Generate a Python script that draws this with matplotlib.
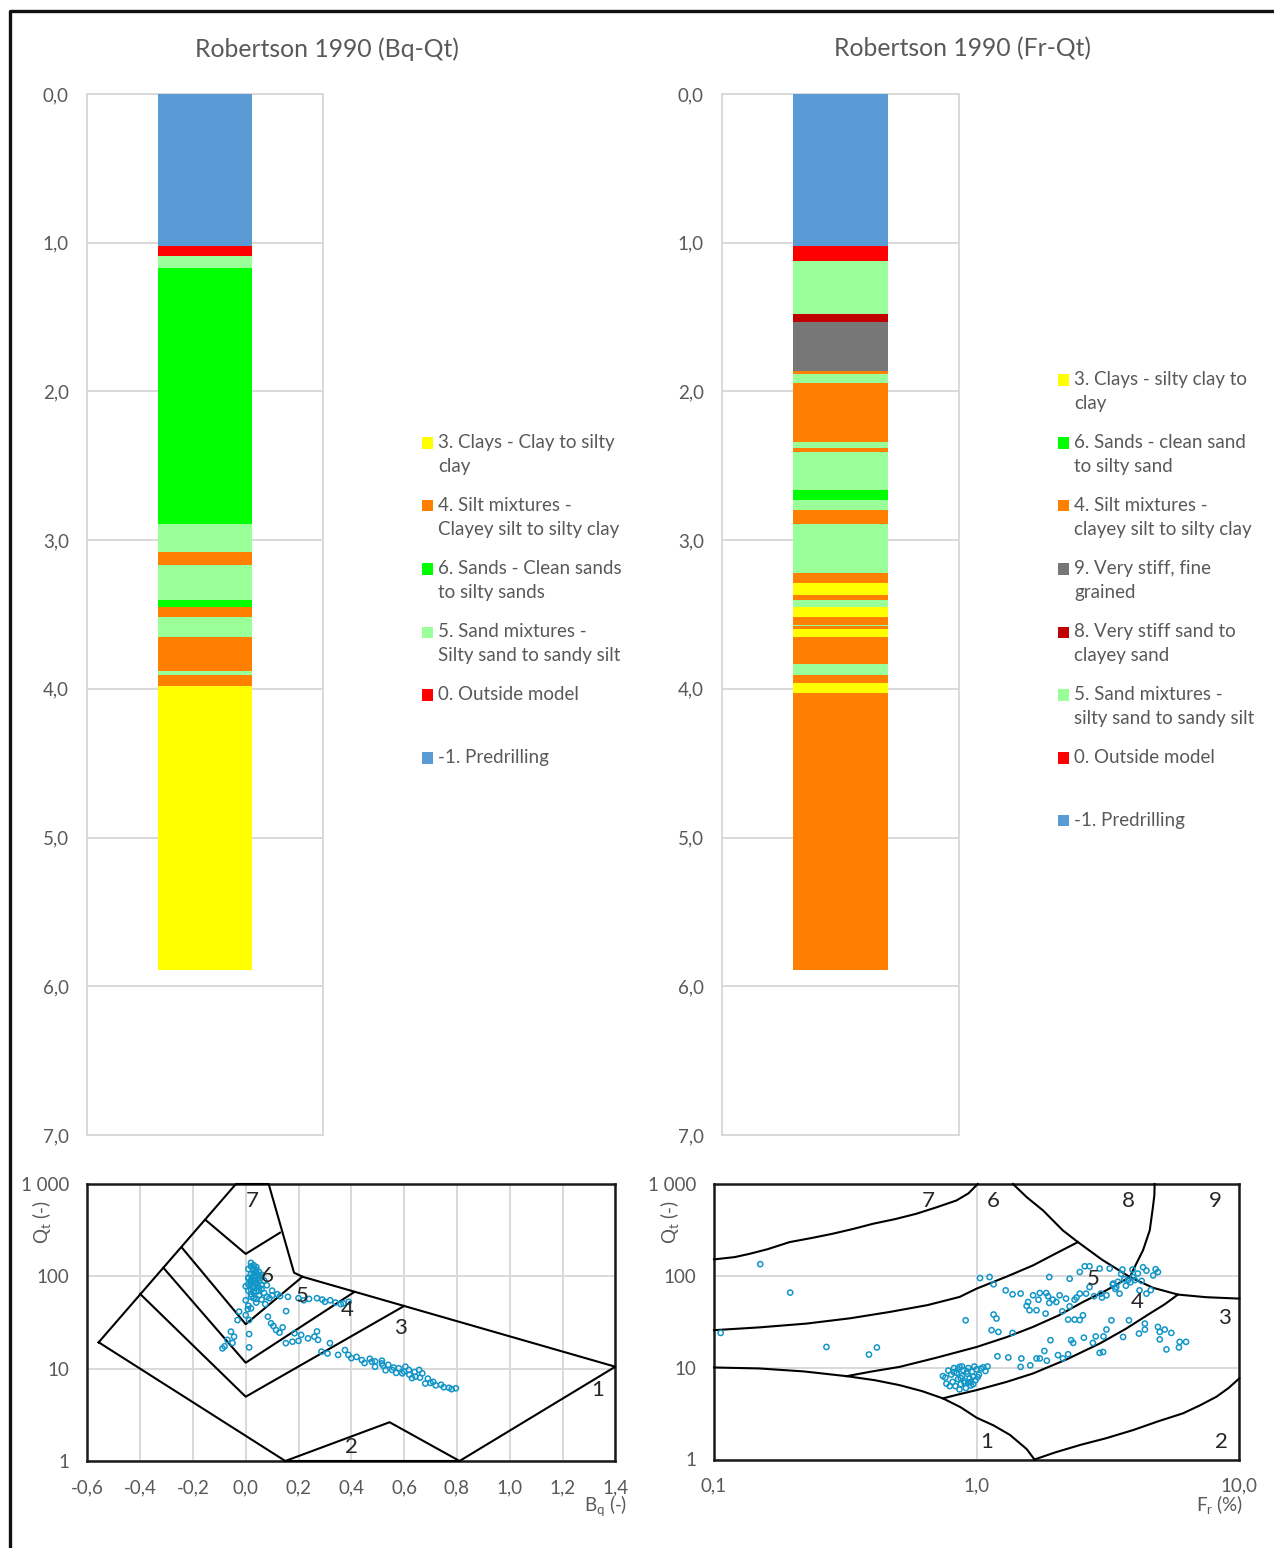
import matplotlib
matplotlib.use("Agg")
import matplotlib.pyplot as plt
from matplotlib.patches import Rectangle
from matplotlib.lines import Line2D

plt.rcParams['font.family'] = ['Lato', 'DejaVu Sans']
plt.rcParams['mathtext.fontset'] = 'custom'
plt.rcParams['mathtext.rm'] = 'Lato'

# ---------------- data ----------------
class_colors = {-1: '#5B9BD5', 0: '#FF0000', 3: '#FFFF00', 4: '#FF8000',
                5: '#99FF99', 6: '#00FF00', 8: '#C00000', 9: '#777777'}

# Bq-Qt column: bottom depth of each layer and class
bq_bottom = [1.02, 1.09, 1.17, 2.89, 3.08, 3.17, 3.40, 3.45, 3.52, 3.65, 3.88, 3.91, 3.98, 5.89]
bq_class = [-1, 0, 5, 6, 5, 4, 5, 6, 4, 5, 4, 5, 4, 3]

# Fr-Qt column
fr_bottom = [1.02, 1.12, 1.48, 1.53, 1.86, 1.88, 1.94, 2.34, 2.38, 2.41, 2.66, 2.73, 2.80, 2.89,
             3.22, 3.29, 3.37, 3.40, 3.45, 3.52, 3.57, 3.58, 3.60, 3.65, 3.83, 3.91, 3.96, 4.03, 5.89]
fr_class = [-1, 0, 5, 8, 9, 4, 5, 4, 5, 4, 5, 6, 5, 4,
            5, 4, 3, 4, 5, 3, 4, 5, 4, 3, 4, 5, 4, 3, 4]

depth_ticks = [0, 1, 2, 3, 4, 5, 6, 7]

bq_legend_codes = [3, 4, 6, 5, 0, -1]
bq_legend_labels = ["3. Clays - Clay to silty\nclay",
                    "4. Silt mixtures -\nClayey silt to silty clay",
                    "6. Sands - Clean sands\nto silty sands",
                    "5. Sand mixtures -\nSilty sand to sandy silt",
                    "0. Outside model",
                    "-1. Predrilling"]
fr_legend_codes = [3, 6, 4, 9, 8, 5, 0, -1]
fr_legend_labels = ["3. Clays - silty clay to\nclay",
                    "6. Sands - clean sand\nto silty sand",
                    "4. Silt mixtures -\nclayey silt to silty clay",
                    "9. Very stiff, fine\ngrained",
                    "8. Very stiff sand to\nclayey sand",
                    "5. Sand mixtures -\nsilty sand to sandy silt",
                    "0. Outside model",
                    "-1. Predrilling"]

# Robertson Bq chart boundaries (Bq, Qt)
bq_outer_x = [-0.557, -0.037, 0.087, 0.183, 0.215, 1.40, 0.81, 0.15, -0.557]
bq_outer_y = [19.3, 1000, 1000, 109.6, 99, 10.5, 1.0, 1.0, 19.3]
bq_v65_x = [-0.152, 0.0, 0.13];  bq_v65_y = [408, 175, 297]
bq_v54_x = [-0.242, 0.0, 0.215]; bq_v54_y = [205, 30.3, 99]
bq_v43_x = [-0.312, 0.0, 0.41];  bq_v43_y = [124, 11.6, 67.3]
bq_v32_x = [-0.40, 0.0, 0.60];   bq_v32_y = [64.5, 4.97, 47.7]
bq_z2_x = [0.15, 0.545, 0.81];   bq_z2_y = [1.0, 2.63, 1.0]
bq_zone_lbl = ['7', '6', '5', '4', '3', '1', '2']
bq_zone_x = [0.026, 0.081, 0.214, 0.386, 0.585, 1.333, 0.40]
bq_zone_y = [656, 101, 61.3, 43.3, 27.6, 5.88, 1.42]

# measured points Bq chart
bq_pts_x = [0.02, 0.03, 0.04, 0.01, 0.03, 0.05, 0.02, 0.04, 0.06, 0.01, 0.03, 0.05, 0.02, 0.04, 0.00,
            0.03, 0.06, 0.01, 0.04, 0.07, 0.02, 0.05, 0.08, 0.03, 0.00, 0.06, 0.09, 0.04, 0.01, 0.02,
            0.03, 0.05, 0.02, 0.04, 0.01, 0.03, 0.05, 0.02, 0.04, 0.03, 0.06, 0.07, 0.08, 0.10, 0.12,
            0.02, 0.04, 0.03, 0.05, 0.01, 0.02, 0.04, 0.06, 0.03, 0.05, 0.02, 0.04,
            0.10, 0.13, 0.16, 0.20, 0.24, 0.27, 0.29, 0.32, 0.34, 0.37, 0.39, 0.36, 0.30, 0.22,
            0.074, 0.153, 0.084, 0.096, 0.115, 0.128, 0.185, 0.21, 0.236, 0.27, 0.274, 0.319, 0.152,
            0.177, 0.26, 0.20, 0.14, 0.105,
            -0.025, -0.031, 0.013, 0.008, -0.056, -0.044, -0.069, -0.088, 0.013, 0.013, -0.08, -0.05, 0.0,
            0.287, 0.31, 0.35, 0.389, 0.40, 0.44, 0.478, 0.49, 0.516, 0.54, 0.555, 0.58, 0.593, 0.618,
            0.643, 0.669, 0.68, 0.71, 0.74, 0.796, 0.657, 0.605, 0.516, 0.49, 0.376, 0.45, 0.47, 0.52,
            0.56, 0.60, 0.62, 0.64, 0.66, 0.69, 0.70, 0.72, 0.75, 0.77, 0.78, 0.63, 0.57, 0.53, 0.42]
bq_pts_y = [140, 132, 126, 120, 116, 112, 106, 101, 98, 95, 91, 88, 85, 81, 78,
            75, 73, 70, 68, 66, 64, 62, 60, 58, 55, 56, 58, 52, 48, 45,
            100, 95, 92, 86, 82, 79, 76, 72, 110, 120, 104, 90, 80, 70, 64,
            128, 118, 108, 102, 97, 88, 84, 80, 68, 70, 60, 57,
            62, 61, 60, 58, 57, 58, 56, 55, 52, 51, 53, 50, 53, 55,
            50, 42, 36.6, 31, 26.2, 24.6, 24.2, 23.2, 21.3, 25.3, 20.5, 18.9, 18.9,
            19.6, 22.2, 20, 28, 29,
            41.5, 33.6, 33.6, 44, 25.2, 22.2, 20.5, 16.6, 23.7, 17, 17.5, 19, 38,
            15.3, 14.6, 14.1, 14.1, 13, 12.4, 11.9, 10.5, 12.2, 11, 9.7, 10.1, 8.9, 9.7,
            8.2, 8.9, 6.9, 7.2, 6.7, 6.13, 9.7, 10.5, 11.4, 12, 15.9, 11.5, 12.8, 10.8,
            10.3, 9.3, 8.6, 9.2, 8.0, 7.8, 7.0, 6.6, 6.3, 6.2, 6.0, 7.9, 9.0, 9.6, 13.4]

# Robertson Fr chart boundaries (Fr %, Qt)
fr_a_x = [0.1, 0.12, 0.137, 0.16, 0.194, 0.235, 0.284, 0.34, 0.403, 0.49, 0.589, 0.70, 0.837, 0.93, 1.01]
fr_a_y = [151, 160, 174, 195, 233, 258, 288, 325, 369, 415, 474, 555, 661, 790, 1000]
fr_b_x = [0.1, 0.15, 0.225, 0.33, 0.466, 0.65, 0.861, 1.0, 1.3, 1.64, 2.0, 2.43]
fr_b_y = [25.6, 27.5, 30.2, 34.5, 40.4, 48, 58.9, 72.6, 98, 130, 175, 233]
fr_c_x = [1.375, 1.55, 1.79, 2.13, 2.43, 3.0, 3.83, 4.7, 5.84, 7.5, 10.0]
fr_c_y = [1000, 720, 515, 312, 233, 150, 97, 74, 62.5, 58.5, 56.5]
fr_d_x = [4.76, 4.75, 4.69, 4.56, 4.3, 3.94, 3.83]
fr_d_y = [1000, 760, 560, 312, 190, 115, 97]
fr_e_x = [0.32, 0.40, 0.509, 0.70, 1.0, 1.3, 1.64, 2.05, 2.54, 3.1, 3.83]
fr_e_y = [8.08, 9.1, 10.2, 12.8, 16.8, 21.5, 27.8, 37, 51.9, 69, 97]
fr_f_x = [0.744, 0.85, 1.0, 1.3, 1.64, 2.2, 2.94, 3.7, 4.56, 5.2, 5.84]
fr_f_y = [4.63, 5.1, 5.7, 7.0, 8.65, 12.3, 18.3, 26.5, 38.8, 49, 62.5]
fr_g_x = [0.1, 0.149, 0.22, 0.32, 0.41, 0.509, 0.62, 0.744, 0.87, 1.0, 1.16, 1.34, 1.55, 1.66]
fr_g_y = [10.05, 9.8, 9.1, 8.08, 7.3, 6.45, 5.55, 4.63, 3.7, 2.85, 2.35, 1.85, 1.3, 1.0]
fr_h_x = [1.66, 2.0, 2.5, 3.1, 3.94, 4.9, 6.1, 7.1, 8.18, 9.1, 10.0]
fr_h_y = [1.0, 1.2, 1.45, 1.7, 2.09, 2.6, 3.18, 3.9, 4.82, 6.0, 7.64]
fr_zone_lbl = ['7', '6', '8', '9', '5', '4', '3', '1', '2']
fr_zone_x = [0.656, 1.16, 3.79, 8.13, 2.77, 4.07, 8.8, 1.09, 8.57]
fr_zone_y = [661, 661, 661, 661, 91.6, 51.5, 34.5, 1.55, 1.55]

fr_pts_x = [0.15, 0.195, 0.106, 0.268, 0.389, 0.417, 0.744, 0.767,
            1.03, 1.12, 1.16, 1.29, 0.908, 1.16, 1.19, 1.14, 1.21, 1.37, 1.47, 1.57, 1.64, 1.74, 1.84,
            1.89, 1.59, 1.69, 1.83, 1.89, 2.01, 2.07, 2.19, 2.12, 2.26, 2.26, 2.36, 2.47, 2.61, 2.23,
            2.36, 2.54, 2.47, 2.58, 2.69, 2.94, 2.69, 2.97, 3.12, 3.31, 3.40, 3.21, 3.59, 3.77, 3.94,
            3.92, 4.11, 4.30, 4.43, 4.70, 4.90, 4.17, 4.43, 3.50, 3.26, 3.80, 4.37, 4.37, 4.15, 4.90,
            4.98, 5.20, 5.51, 4.98, 5.28, 5.93, 6.27, 5.89, 3.61, 3.12, 3.04, 2.84, 2.77, 2.56, 2.29,
            2.33, 1.91, 1.81, 1.74, 1.85, 2.04, 2.13, 2.23, 1.69, 1.60, 1.48, 1.47, 1.32, 1.20, 2.94,
            3.03, 1.37, 1.87, 2.47, 3.37,
            3.30, 3.45, 3.65, 3.85, 4.0, 4.25, 4.6, 4.8, 3.55, 3.7, 2.8, 3.0, 1.95, 1.72, 2.4, 1.55,
            0.76, 0.78, 0.80, 0.81, 0.82, 0.83, 0.84, 0.85, 0.86, 0.87, 0.88, 0.89, 0.90, 0.91, 0.92,
            0.93, 0.94, 0.95, 0.96, 0.97, 0.98, 0.99, 1.00, 1.02, 1.04, 1.06, 1.08, 1.10, 0.88, 0.93,
            0.79, 0.86, 0.82, 0.85, 0.90, 0.95, 0.87, 0.92, 0.97, 1.01]
fr_pts_y = [134, 65.7, 23.9, 16.8, 13.9, 16.6, 8.1, 6.7,
            94.6, 97, 80.9, 69.5, 32.8, 37.9, 34.3, 25.6, 24.5, 23.9, 64.1, 51.9, 61.4, 65, 65,
            97, 42.2, 42.2, 38.8, 50.7, 51.9, 61.4, 56.5, 41.1, 93, 46.5, 55, 64, 64, 33.4,
            33.4, 37.2, 110, 127, 127, 120, 75.5, 64, 61.4, 82.4, 75.5, 120, 117, 89.3, 97,
            117, 106, 124, 114, 101, 110, 69.5, 64, 64, 32.8, 32.8, 30.2, 26.0, 23.5, 27.8,
            24.5, 26.0, 23.9, 20.3, 15.8, 19.1, 19.1, 16.6, 21.6, 26.0, 21.9, 21.9, 18.6, 21.2, 19.9,
            18.6, 19.9, 15.2, 12.6, 11.9, 13.7, 12.6, 14.0, 12.6, 10.6, 12.6, 10.2, 12.9, 13.3, 14.5,
            14.8, 62.9, 60, 33, 72,
            80, 86, 92, 85, 90, 88, 70, 118, 105, 78, 60, 58, 55, 55, 58, 47,
            7.8, 9.3, 8.4, 7.0, 9.9, 6.3, 8.8, 7.5, 10.2, 6.6, 8.1, 9.4, 7.1, 6.0, 8.6,
            9.9, 7.6, 6.4, 9.0, 8.0, 10.3, 7.3, 9.6, 8.4, 9.8, 10.1, 9.2, 10.3, 10.3, 6.9,
            6.3, 5.8, 8.9, 9.6, 6.8, 7.0, 7.7, 9.1, 6.6, 7.9]

# ---------------- styling ----------------
W, H = 1274, 1548
GRAY_TXT = '#595959'
GRID = '#D9D9D9'
PT_COL = '#1296C8'
TICK_FS = 13.5


def fx(px):
    return px / W


def fy(py):
    return 1 - py / H


def dec(v):
    return f"{v:.1f}".replace('.', ',')


fig = plt.figure(figsize=(W / 100, H / 100), dpi=100)
fig.patch.set_facecolor('white')


def column(ax_rect, bottoms, classes, title, title_x):
    ax = fig.add_axes(ax_rect)
    top = 0.0
    for b, c in zip(bottoms, classes):
        ax.bar(0.5, b - top, bottom=top, width=0.4, color=class_colors[c],
               edgecolor='none', zorder=3)
        top = b
    ax.set_xlim(0, 1)
    ax.set_ylim(7, 0)
    ax.set_yticks(depth_ticks)
    ax.set_yticklabels([dec(v) for v in depth_ticks], color=GRAY_TXT, fontsize=TICK_FS)
    ax.set_xticks([])
    ax.tick_params(axis='y', length=0, pad=13)
    ax.grid(axis='y', color=GRID, lw=1.4, zorder=0)
    for s in ax.spines.values():
        s.set_color(GRID)
        s.set_linewidth(1.4)
    fig.text(fx(title_x), fy(49), title, ha='center', va='center',
             color=GRAY_TXT, fontsize=17.8)
    return ax


column([fx(87), fy(1135), fx(236), (1135 - 94) / H], bq_bottom, bq_class,
       "Robertson 1990 (Bq-Qt)", 327)
column([fx(722), fy(1135), fx(237), (1135 - 94) / H], fr_bottom, fr_class,
       "Robertson 1990 (Fr-Qt)", 963)


def legend(x_marker, y_first, codes, labels):
    for i, (c, lab) in enumerate(zip(codes, labels)):
        yc = y_first + 63 * i
        fig.patches.append(Rectangle((fx(x_marker), fy(yc + 5.5)), 11 / W, 11 / H,
                                     transform=fig.transFigure, facecolor=class_colors[c],
                                     edgecolor='none', figure=fig))
        fig.text(fx(x_marker + 16), fy(yc - 9), lab, ha='left', va='top',
                 color=GRAY_TXT, fontsize=13.5, linespacing=1.5)


legend(422, 443, bq_legend_codes, bq_legend_labels)
legend(1058, 380, fr_legend_codes, fr_legend_labels)

# ---------------- Bq - Qt chart ----------------
ax3 = fig.add_axes([fx(87.3), fy(1461), fx(528), 277 / H])
ax3.set_yscale('log')
ax3.set_xlim(-0.6, 1.4)
ax3.set_ylim(1, 1000)
bq_xt = [-0.6, -0.4, -0.2, 0.0, 0.2, 0.4, 0.6, 0.8, 1.0, 1.2, 1.4]
ax3.set_xticks(bq_xt)
ax3.set_xticklabels([dec(v) for v in bq_xt], color=GRAY_TXT, fontsize=TICK_FS)
ax3.set_yticks([1, 10, 100, 1000])
ax3.set_yticklabels(['1', '10', '100', '1 000'], color=GRAY_TXT, fontsize=TICK_FS)
ax3.minorticks_off()
ax3.tick_params(length=0, pad=13)
ax3.grid(True, color=GRID, lw=1.4, zorder=0)
for s in ax3.spines.values():
    s.set_color('#1a1a1a')
    s.set_linewidth(1.8)
for xs, ys in [(bq_outer_x, bq_outer_y), (bq_v65_x, bq_v65_y), (bq_v54_x, bq_v54_y),
               (bq_v43_x, bq_v43_y), (bq_v32_x, bq_v32_y), (bq_z2_x, bq_z2_y)]:
    ax3.plot(xs, ys, color='black', lw=1.5, zorder=3, clip_on=False)
ax3.scatter(bq_pts_x, bq_pts_y, s=14, facecolors='none', edgecolors=PT_COL,
            linewidths=1.1, zorder=4)
for t, x, y in zip(bq_zone_lbl, bq_zone_x, bq_zone_y):
    ax3.text(x, y, t, ha='center', va='center', fontsize=16, color='#262626', zorder=5)
fig.text(fx(42), fy(1222), r"Q$_\mathregular{t}$ (-)", rotation=90, ha='center', va='center',
         color=GRAY_TXT, fontsize=TICK_FS)
fig.text(fx(606), fy(1506), r"B$_\mathregular{q}$ (-)", ha='center', va='center',
         color=GRAY_TXT, fontsize=TICK_FS)

# ---------------- Fr - Qt chart ----------------
ax4 = fig.add_axes([fx(714), fy(1459.5), fx(525.3), 275.5 / H])
ax4.set_xscale('log')
ax4.set_yscale('log')
ax4.set_xlim(0.1, 10)
ax4.set_ylim(1, 1000)
ax4.set_xticks([0.1, 1, 10])
ax4.set_xticklabels(['0,1', '1,0', '10,0'], color=GRAY_TXT, fontsize=TICK_FS)
ax4.set_yticks([1, 10, 100, 1000])
ax4.set_yticklabels(['1', '10', '100', '1 000'], color=GRAY_TXT, fontsize=TICK_FS)
ax4.minorticks_off()
ax4.tick_params(length=0, pad=13)
ax4.grid(True, color=GRID, lw=1.4, zorder=0)
for s in ax4.spines.values():
    s.set_color('#1a1a1a')
    s.set_linewidth(1.8)
for xs, ys in [(fr_a_x, fr_a_y), (fr_b_x, fr_b_y), (fr_c_x, fr_c_y), (fr_d_x, fr_d_y),
               (fr_e_x, fr_e_y), (fr_f_x, fr_f_y), (fr_g_x, fr_g_y), (fr_h_x, fr_h_y)]:
    ax4.plot(xs, ys, color='black', lw=1.5, zorder=3, clip_on=False, solid_joinstyle='round')
ax4.scatter(fr_pts_x, fr_pts_y, s=14, facecolors='none', edgecolors=PT_COL,
            linewidths=1.1, zorder=4)
for t, x, y in zip(fr_zone_lbl, fr_zone_x, fr_zone_y):
    ax4.text(x, y, t, ha='center', va='center', fontsize=16, color='#262626', zorder=5)
fig.text(fx(670), fy(1222), r"Q$_\mathregular{t}$ (-)", rotation=90, ha='center', va='center',
         color=GRAY_TXT, fontsize=TICK_FS)
fig.text(fx(1220), fy(1505), r"F$_\mathregular{r}$ (%)", ha='center', va='center',
         color=GRAY_TXT, fontsize=TICK_FS)

# page frame
fig.add_artist(Line2D([fx(9.5), fx(9.5), 1.0], [0.0, fy(11), fy(11)],
                      transform=fig.transFigure, color='#111111', lw=2.4))

fig.savefig('out.png', dpi=100)
